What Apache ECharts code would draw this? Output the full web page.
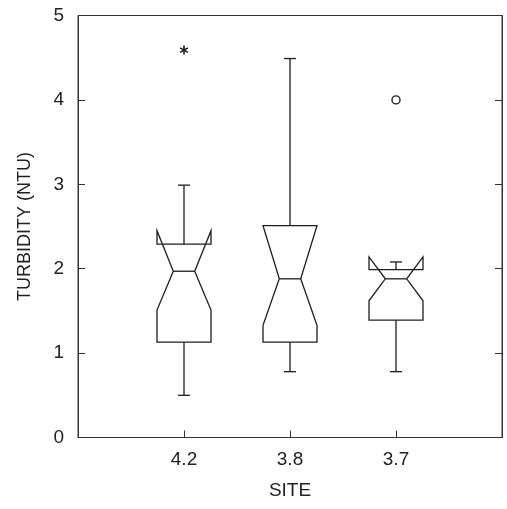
<!DOCTYPE html>
<html><head><meta charset="utf-8">
<script src="https://cdn.jsdelivr.net/npm/echarts@6/dist/echarts.min.js"></script>
<style>html,body{margin:0;padding:0;background:#fff}#c{width:507px;height:509px}</style>
</head><body><div id="c"></div>
<script>
// ---- data ----
const sites = ['4.2', '3.8', '3.7'];
const lowerWhisker = [0.50, 0.78, 0.78];
const q1 = [1.13, 1.13, 1.39];
const notchLow = [1.51, 1.33, 1.62];
const median = [1.97, 1.88, 1.88];
const notchHigh = [2.45, 2.51, 2.14];
const q3 = [2.29, 2.51, 1.99];
const upperWhisker = [2.99, 4.49, 2.08];
const farOutsideSite = ['4.2'];
const farOutsideValue = [4.59];
const outsideSite = ['3.7'];
const outsideValue = [4.0];
const yMin = 0, yMax = 5, yStep = 1;

// ---- build ----
const axisCats = [''].concat(sites).concat(['']);
const idx = s => axisCats.indexOf(s);
const boxData = sites.map((s, i) => [idx(s), lowerWhisker[i], q1[i], notchLow[i], median[i], notchHigh[i], q3[i], upperWhisker[i]]);
const starData = farOutsideSite.map((s, i) => [idx(s), farOutsideValue[i]]);
const circleData = outsideSite.map((s, i) => [idx(s), outsideValue[i]]);

const INK = '#1e1e1e';
const FONT = 'Liberation Sans';
const lineStyle = {stroke: INK, lineWidth: 1.3, fill: null};

function renderBox(params, api) {
  const i = api.value(0);
  const x = api.coord([i, 0])[0];
  const y = k => api.coord([i, api.value(k)])[1];
  const lw = y(1), qa = y(2), nl = y(3), md = y(4), nh = y(5), qb = y(6), uw = y(7);
  const W = 27, N = 10.7, C = 6;
  const pts = [[x - W, qa], [x - W, nl], [x - N, md], [x - W, nh], [x - W, qb],
               [x + W, qb], [x + W, nh], [x + N, md], [x + W, nl], [x + W, qa]];
  return {type: 'group', children: [
    {type: 'polygon', shape: {points: pts}, style: lineStyle},
    {type: 'line', shape: {x1: x - N, y1: md, x2: x + N, y2: md}, style: lineStyle},
    {type: 'line', shape: {x1: x, y1: qb, x2: x, y2: uw}, style: lineStyle},
    {type: 'line', shape: {x1: x - C, y1: uw, x2: x + C, y2: uw}, style: lineStyle},
    {type: 'line', shape: {x1: x, y1: qa, x2: x, y2: lw}, style: lineStyle},
    {type: 'line', shape: {x1: x - C, y1: lw, x2: x + C, y2: lw}, style: lineStyle}
  ]};
}

function renderStar(params, api) {
  const p = api.coord([api.value(0), api.value(1)]);
  const r = 4.5, ch = [];
  for (let k = 0; k < 3; k++) {
    const a = Math.PI / 2 + k * Math.PI / 3;
    ch.push({type: 'line', shape: {x1: p[0] - r * Math.cos(a), y1: p[1] - r * Math.sin(a),
      x2: p[0] + r * Math.cos(a), y2: p[1] + r * Math.sin(a)}, style: {stroke: INK, lineWidth: 1.6}});
  }
  return {type: 'group', children: ch};
}

function renderCircle(params, api) {
  const p = api.coord([api.value(0), api.value(1)]);
  return {type: 'circle', shape: {cx: p[0], cy: p[1], r: 4}, style: {stroke: INK, lineWidth: 1.4, fill: null}};
}

const chart = echarts.init(document.getElementById('c'), null, {renderer: 'canvas'});
chart.setOption({
  animation: false,
  backgroundColor: '#fff',
  grid: {left: 78, right: 5, top: 15.5, bottom: 71.5, show: true, borderColor: '#333', borderWidth: 1},
  xAxis: {
    type: 'category', data: axisCats, boundaryGap: false,
    name: 'SITE', nameLocation: 'middle', nameGap: 44,
    nameTextStyle: {fontFamily: FONT, fontSize: 19, color: '#222'},
    axisLine: {show: true, lineStyle: {color: '#333', width: 1}},
    axisTick: {show: true, inside: true, length: 7, lineStyle: {color: '#333'}},
    axisLabel: {fontFamily: FONT, fontSize: 19, color: '#222', margin: 13, interval: 0},
    splitLine: {show: false}
  },
  yAxis: [{
    type: 'value', min: yMin, max: yMax, interval: yStep, position: 'left',
    name: 'TURBIDITY (NTU)', nameLocation: 'middle', nameGap: 44, nameRotate: 90,
    nameTextStyle: {fontFamily: FONT, fontSize: 18, color: '#222'},
    axisLine: {show: true, lineStyle: {color: '#333', width: 1}},
    axisTick: {show: true, inside: true, length: 7, lineStyle: {color: '#333'}},
    axisLabel: {fontFamily: FONT, fontSize: 19, color: '#222', margin: 14},
    splitLine: {show: false}
  }, {
    type: 'value', min: yMin, max: yMax, interval: yStep, position: 'right',
    axisLine: {show: true, lineStyle: {color: '#333', width: 1}},
    axisTick: {show: true, inside: true, length: 7, lineStyle: {color: '#333'}},
    axisLabel: {show: false},
    splitLine: {show: false}
  }],
  series: [
    {type: 'custom', renderItem: renderBox, data: boxData, encode: {x: 0, y: [1, 2, 3, 4, 5, 6, 7]}, silent: true},
    {type: 'custom', renderItem: renderStar, data: starData, encode: {x: 0, y: 1}, silent: true},
    {type: 'custom', renderItem: renderCircle, data: circleData, encode: {x: 0, y: 1}, silent: true}
  ]
});
</script>
</body></html>
